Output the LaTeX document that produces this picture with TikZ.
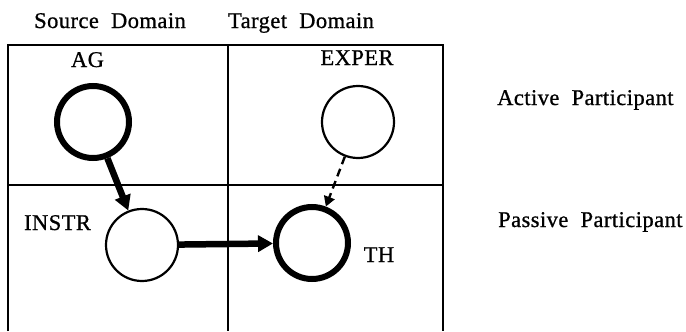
\documentclass[tikz,border=0pt]{standalone}
\usepackage{fontspec}
\setmainfont{Liberation Serif}[LetterSpace=2,FakeBold=0.8]
\usetikzlibrary{arrows.meta}
\begin{document}
\begin{tikzpicture}[x=1pt,y=-1pt,
  lbl/.style={font=\fontsize{22.5}{26}\selectfont, inner sep=0pt, anchor=base},
  role/.style={circle, draw, minimum size=72pt, inner sep=0pt},
  thin role/.style={role, line width=2.2pt},
  thick role/.style={role, line width=6pt},
  strong/.style={line width=6.5pt, -{Triangle[length=15pt,width=16pt]}},
  weak/.style={line width=2.4pt, dash pattern=on 8pt off 5pt, -{Triangle[length=10pt,width=11pt]}},
  frame/.style={line width=2.2pt}]
\useasboundingbox (0,0) rectangle (686,332);
% frame grid
\draw[frame] (8,331) -- (8,45) -- (443,45) -- (443,331);
\draw[frame] (228,45) -- (228,331);
\draw[frame] (8,185) -- (443,185);
% headings
\node[lbl] (src) at (110,28) {Source\ \ Domain};
\node[lbl] (tgt) at (301,28) {Target\ \ Domain};
\node[lbl, anchor=base west] (act) at (497,105) {Active\ \ Participant};
\node[lbl, anchor=base west] (pas) at (498,227) {Passive\ \ Participant};
% role labels
\node[lbl] (agl) at (87.5,67) {AG};
\node[lbl] (exl) at (357,65) {EXPER};
\node[lbl] (inl) at (57.5,230) {INSTR};
\node[lbl] (thl) at (379,262) {TH};
% circles
\node[thick role] (ag) at (93,122) {};
\node[thin role] (ex) at (358,122) {};
\node[thin role] (in) at (142,245) {};
\node[thick role] (th) at (312,243) {};
% connectors
\draw[strong] (ag) -- (in);
\draw[strong] (in) -- (th);
\draw[weak] (ex) -- (th);
\end{tikzpicture}
\end{document}
